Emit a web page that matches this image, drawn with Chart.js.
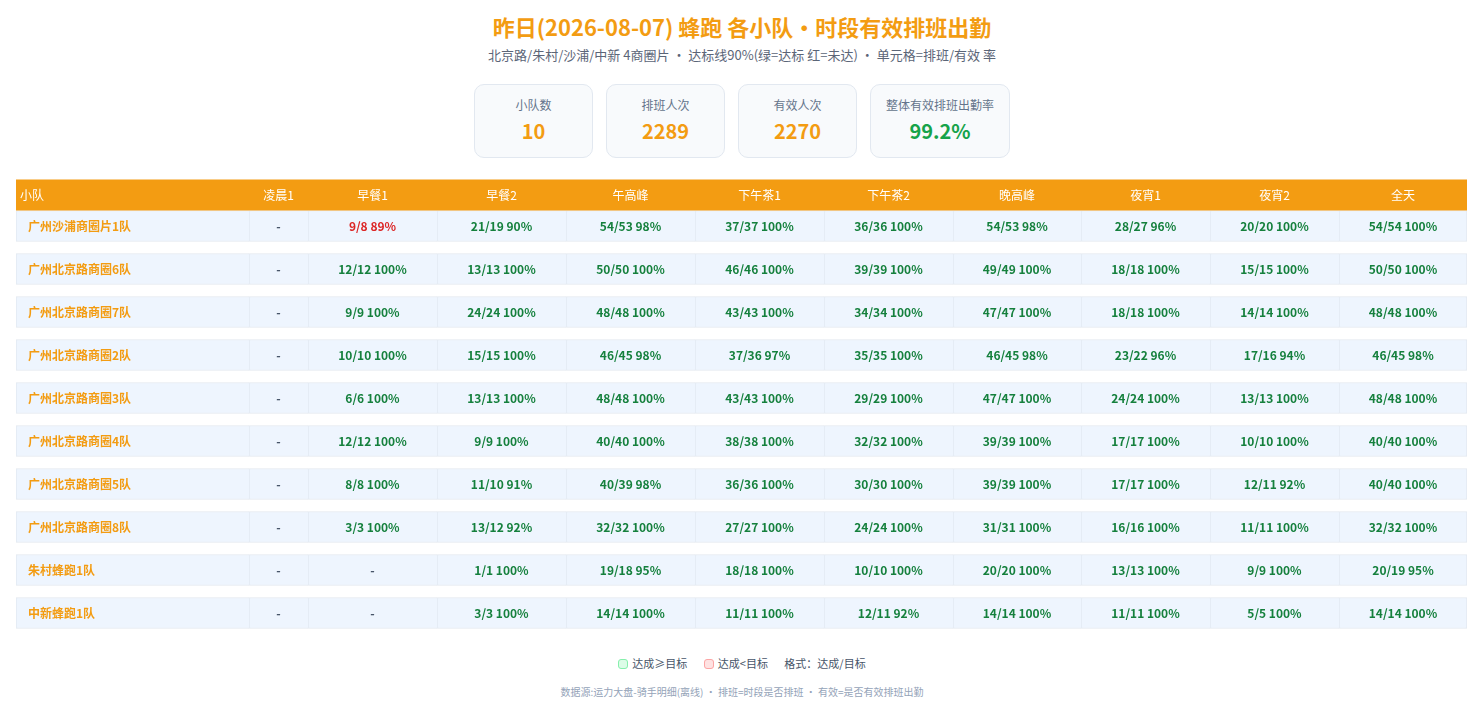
<!DOCTYPE html>
<html lang="zh-CN">
<head>
<meta charset="utf-8">
<title>蜂跑 各小队·时段有效排班出勤</title>
<script src="https://cdn.jsdelivr.net/npm/chart.js@4.4.1/dist/chart.umd.min.js"></script>
<style>
  body { margin: 0; background: #fff; font-family: "Noto Sans CJK SC", "Noto Sans", sans-serif; width: 1484px; height: 715px; position: relative; overflow: hidden; }
  .title { position: absolute; top: 9px; left: 0; width: 1484px; text-align: center; font-size: 22px; font-weight: 700; color: #f39c12; line-height: 34px; }
  .subtitle { position: absolute; top: 45px; left: 0; width: 1484px; text-align: center; font-size: 13px; color: #5b6577; line-height: 20px; }
  .cards { position: absolute; top: 84px; left: 0; width: 1484px; display: flex; justify-content: center; gap: 13px; }
  .card { box-sizing: border-box; height: 74px; width: 119px; border: 1px solid #e2e8f0; border-radius: 10px; background: #f8fafc; text-align: center; }
  .card.wide { width: 140px; }
  .card .lbl { font-size: 12px; color: #64748b; margin-top: 12px; line-height: 16px; }
  .card .val { font-size: 20px; font-weight: 700; color: #f39c12; margin-top: 5px; line-height: 26px; }
  .card .val.ok { color: #16a34a; }
  #wrap { position: absolute; left: 16px; top: 173px; width: 1451px; height: 464px; }
  .legend { position: absolute; top: 654px; left: 0; width: 1484px; text-align: center; font-size: 11px; color: #475569; line-height: 18px; }
  .legend .sw { display: inline-block; box-sizing: border-box; width: 10px; height: 10px; border-radius: 3px; vertical-align: -1px; margin-right: 4px; }
  .legend .item { margin: 0 7px; }
  .foot { position: absolute; top: 684px; left: 0; width: 1484px; text-align: center; font-size: 10px; color: #94a3b8; line-height: 16px; }
</style>
</head>
<body>
<div class="title">昨日(2026-08-07) 蜂跑 各小队・时段有效排班出勤</div>
<div class="subtitle">北京路/朱村/沙浦/中新 4商圈片 ・ 达标线90%(绿=达标 红=未达) ・ 单元格=排班/有效 率</div>
<div class="cards">
  <div class="card"><div class="lbl">小队数</div><div class="val" id="k-teams"></div></div>
  <div class="card"><div class="lbl">排班人次</div><div class="val" id="k-sched"></div></div>
  <div class="card"><div class="lbl">有效人次</div><div class="val" id="k-eff"></div></div>
  <div class="card wide"><div class="lbl">整体有效排班出勤率</div><div class="val ok" id="k-rate"></div></div>
</div>
<div id="wrap"><canvas id="grid"></canvas></div>
<div class="legend">
  <span class="item"><span class="sw" style="background:#dcfce7;border:1px solid #86efac"></span>达成≥目标</span>
  <span class="item"><span class="sw" style="background:#fee2e2;border:1px solid #fca5a5"></span>达成&lt;目标</span>
  <span class="item">格式：达成/目标</span>
</div>
<div class="foot">数据源:运力大盘-骑手明细(离线) ・ 排班=时段是否排班 ・ 有效=是否有效排班出勤</div>

<script>
// team rows
const teams = [
  '广州沙浦商圈片1队', '广州北京路商圈6队', '广州北京路商圈7队', '广州北京路商圈2队',
  '广州北京路商圈3队', '广州北京路商圈4队', '广州北京路商圈5队', '广州北京路商圈8队',
  '朱村蜂跑1队', '中新蜂跑1队'
];

// period columns (after the team column)
const periods = ['凌晨1', '早餐1', '早餐2', '午高峰', '下午茶1', '下午茶2', '晚高峰', '夜宵1', '夜宵2', '全天'];

// scheduled count per team / period (null = not scheduled)
const sched = [
  [null, 9, 21, 54, 37, 36, 54, 28, 20, 54],
  [null, 12, 13, 50, 46, 39, 49, 18, 15, 50],
  [null, 9, 24, 48, 43, 34, 47, 18, 14, 48],
  [null, 10, 15, 46, 37, 35, 46, 23, 17, 46],
  [null, 6, 13, 48, 43, 29, 47, 24, 13, 48],
  [null, 12, 9, 40, 38, 32, 39, 17, 10, 40],
  [null, 8, 11, 40, 36, 30, 39, 17, 12, 40],
  [null, 3, 13, 32, 27, 24, 31, 16, 11, 32],
  [null, null, 1, 19, 18, 10, 20, 13, 9, 20],
  [null, null, 3, 14, 11, 12, 14, 11, 5, 14]
];

// effective count per team / period
const effective = [
  [null, 8, 19, 53, 37, 36, 53, 27, 20, 54],
  [null, 12, 13, 50, 46, 39, 49, 18, 15, 50],
  [null, 9, 24, 48, 43, 34, 47, 18, 14, 48],
  [null, 10, 15, 45, 36, 35, 45, 22, 16, 45],
  [null, 6, 13, 48, 43, 29, 47, 24, 13, 48],
  [null, 12, 9, 40, 38, 32, 39, 17, 10, 40],
  [null, 8, 10, 39, 36, 30, 39, 17, 11, 40],
  [null, 3, 12, 32, 27, 24, 31, 16, 11, 32],
  [null, null, 1, 18, 18, 10, 20, 13, 9, 19],
  [null, null, 3, 14, 11, 11, 14, 11, 5, 14]
];

const target = 90;

// layout: relative column widths (team column first)
const colWidths = [233, 59, 129, 129, 129, 129, 129, 128, 129, 129, 128];

const COLORS = {
  header: '#f39c12',
  team: '#f39c12',
  cell: '#eef5fe',
  border: '#e2e8f0',
  ok: '#15803d',
  bad: '#dc2626',
  dash: '#475569'
};
const FONT = '"Noto Sans CJK SC", "Noto Sans", sans-serif';

// KPI cards
let totalSched = 0, totalEff = 0;
sched.forEach((row, i) => row.forEach((v, j) => {
  if (v != null) {
    totalSched += v;
    totalEff += effective[i][j];
  }
}));
document.getElementById('k-teams').textContent = teams.length;
document.getElementById('k-sched').textContent = totalSched;
document.getElementById('k-eff').textContent = totalEff;
document.getElementById('k-rate').textContent = (totalEff / totalSched * 100).toFixed(1) + '%';

function cellText(i, j) {
  const s = sched[i][j];
  if (s == null) return { text: '-', color: COLORS.dash };
  const rate = Math.round(effective[i][j] / s * 100);
  return {
    text: `${s}/${effective[i][j]} ${rate}%`,
    color: rate >= target ? COLORS.ok : COLORS.bad
  };
}

// one dataset per column, stacked horizontally, each bar = one cell
const lastCol = colWidths.length - 1;
const datasets = colWidths.map((w, c) => ({
  label: c === 0 ? '小队' : periods[c - 1],
  data: teams.map(() => w),
  backgroundColor: COLORS.cell,
  borderColor: COLORS.border,
  borderWidth: { top: 1, bottom: 1, left: 1, right: c === lastCol ? 1 : 0 },
  borderSkipped: false,
  barThickness: 31
}));

const tablePlugin = {
  id: 'tableText',
  afterDatasetsDraw(chart) {
    const ctx = chart.ctx;
    ctx.save();
    // header band, sitting right on top of the first row
    const first = chart.getDatasetMeta(0).data[0];
    const rowTop = first.y - first.height / 2;
    const left = first.base;
    const right = chart.getDatasetMeta(lastCol).data[0].x;
    ctx.fillStyle = COLORS.header;
    ctx.fillRect(left, rowTop - 31, right - left, 31);

    ctx.textBaseline = 'middle';
    ctx.font = `12px ${FONT}`;
    ctx.fillStyle = '#fff';
    chart.data.datasets.forEach((ds, c) => {
      const el = chart.getDatasetMeta(c).data[0];
      if (c === 0) {
        ctx.textAlign = 'left';
        ctx.fillText(ds.label, el.base + 4, rowTop - 15.5);
      } else {
        ctx.textAlign = 'center';
        ctx.fillText(ds.label, (el.base + el.x) / 2, rowTop - 15.5);
      }
    });

    // body cells
    teams.forEach((team, i) => {
      chart.data.datasets.forEach((ds, c) => {
        const el = chart.getDatasetMeta(c).data[i];
        if (c === 0) {
          ctx.textAlign = 'left';
          ctx.font = `bold 12px ${FONT}`;
          ctx.fillStyle = COLORS.team;
          ctx.fillText(team, el.base + 12, el.y);
          return;
        }
        const t = cellText(i, c - 1);
        ctx.textAlign = 'center';
        ctx.font = `bold 12px ${FONT}`;
        ctx.fillStyle = t.color;
        ctx.fillText(t.text, (el.base + el.x) / 2, el.y);
      });
    });
    ctx.restore();
  }
};

new Chart(document.getElementById('grid'), {
  type: 'bar',
  data: { labels: teams, datasets: datasets },
  options: {
    indexAxis: 'y',
    responsive: true,
    maintainAspectRatio: false,
    animation: false,
    layout: { padding: { top: 31.5, bottom: 2.5, left: 0, right: 0 } },
    plugins: {
      legend: { display: false },
      tooltip: { enabled: false }
    },
    scales: {
      x: {
        stacked: true,
        display: false,
        min: 0,
        max: colWidths.reduce((a, b) => a + b, 0)
      },
      y: {
        stacked: true,
        display: false
      }
    }
  },
  plugins: [tablePlugin]
});
</script>
</body>
</html>
